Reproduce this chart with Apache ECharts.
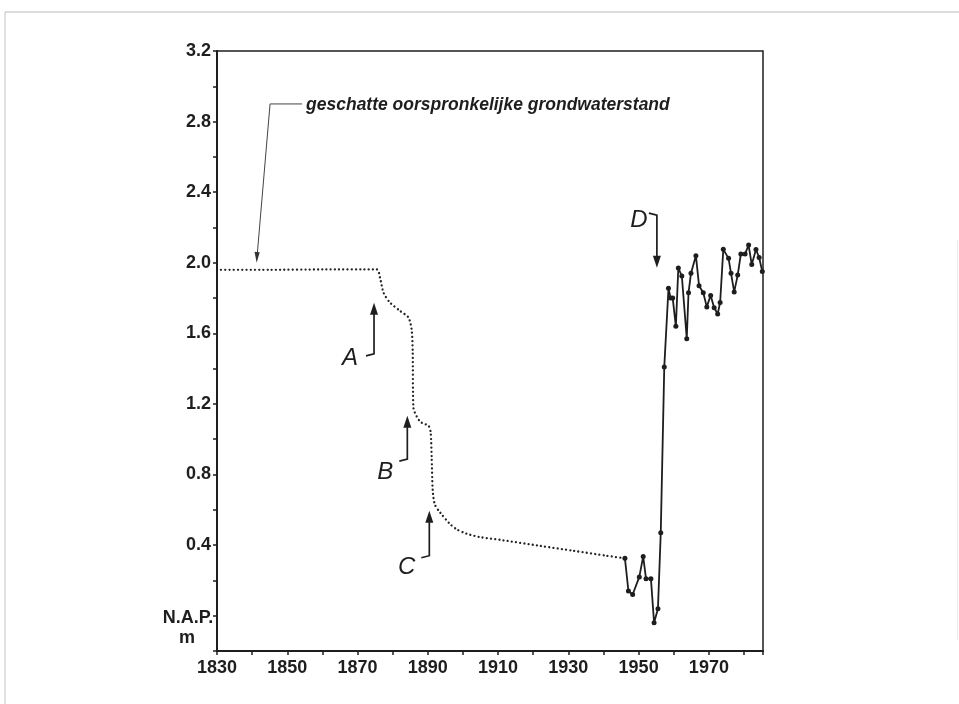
<!DOCTYPE html>
<html><head><meta charset="utf-8">
<script src="https://cdn.jsdelivr.net/npm/echarts@6/dist/echarts.min.js"></script>
<style>html,body{margin:0;padding:0;background:#fff}#c{width:959px;height:704px}</style>
</head><body><div id="c"></div>
<script>
// ---- data ----
const estimatedYears  = [1830, 1845, 1860, 1875.5, 1876.4, 1877.4, 1879.2, 1882.1, 1884.5, 1885.4, 1885.7, 1885.9, 1887.8, 1890.2, 1890.8, 1891.1, 1891.4, 1892.0, 1893.5, 1896.3, 1898.2, 1901.0, 1905.0, 1910.6, 1921.9, 1931.4, 1940.9, 1946.1];
const estimatedLevels = [1.96, 1.96, 1.962, 1.962, 1.915, 1.83, 1.775, 1.727, 1.69, 1.62, 1.50, 1.18, 1.10, 1.076, 1.04, 0.90, 0.71, 0.63, 0.585, 0.52, 0.49, 0.465, 0.445, 0.43, 0.396, 0.368, 0.34, 0.325];

const measuredYears  = [1946.1, 1947.1, 1948.3, 1950.2, 1951.3, 1952.1, 1953.5, 1954.4, 1955.5, 1956.3, 1957.3, 1958.5, 1959.1, 1959.7, 1960.6, 1961.3, 1962.3, 1963.7, 1964.2, 1964.9, 1966.3, 1967.2, 1968.4, 1969.4, 1970.5, 1971.5, 1972.5, 1973.2, 1974.1, 1975.6, 1976.3, 1977.2, 1978.2, 1979.1, 1980.3, 1981.3, 1982.2, 1983.4, 1984.3, 1985.2];
const measuredLevels = [0.325, 0.14, 0.12, 0.22, 0.336, 0.21, 0.21, -0.04, 0.04, 0.47, 1.41, 1.855, 1.80, 1.80, 1.64, 1.97, 1.925, 1.57, 1.83, 1.94, 2.04, 1.87, 1.83, 1.75, 1.815, 1.745, 1.71, 1.775, 2.076, 2.025, 1.94, 1.835, 1.93, 2.05, 2.05, 2.10, 1.99, 2.075, 2.03, 1.95];

const xLabelYears = [1830, 1850, 1870, 1890, 1910, 1930, 1950, 1970];
const yLabelValues = [0.4, 0.8, 1.2, 1.6, 2.0, 2.4, 2.8, 3.2];
const zeroLabel = ['N.A.P.', 'm'];

const noteText = 'geschatte oorspronkelijke grondwaterstand';
const noteTipYear = 1841.3, noteTipLevel = 2.0;
const noteCornerYear = 1845.1, noteCornerLevel = 2.90;

const markerNames      = ['A', 'B', 'C', 'D'];
const markerYears      = [1874.69, 1884.17, 1890.43, 1955.2];
const markerTipLevels  = [1.774, 1.1325, 0.5946, 1.972];
const markerTailLevels = [1.4836, 0.887, 0.340, 2.27];

// ---- chart ----
const INK = '#1e1e1e';
const FONT = '"Liberation Sans", Arial, sans-serif';
const chart = echarts.init(document.getElementById('c'), null, {renderer: 'canvas'});

const option = {
  animation: false,
  backgroundColor: '#fff',
  grid: {left: 217, right: 196, top: 51, bottom: 53, show: true, borderColor: INK, borderWidth: 1.5, backgroundColor: 'transparent'},
  xAxis: {
    type: 'value', min: 1830, max: 1985.4, interval: 10,
    axisLine: {show: true, onZero: false, lineStyle: {color: INK, width: 2}},
    axisTick: {show: true, inside: false, length: 4, lineStyle: {color: INK, width: 1.5}},
    splitLine: {show: false},
    axisLabel: {
      margin: 8, color: INK, fontSize: 18, fontWeight: 'bold', fontFamily: FONT,
      formatter: v => xLabelYears.indexOf(Math.round(v)) >= 0 && Math.abs(v - Math.round(v)) < 1e-6 ? String(Math.round(v)) : ''
    }
  },
  yAxis: {
    type: 'value', min: -0.2, max: 3.2, interval: 0.2,
    axisLine: {show: true, onZero: false, lineStyle: {color: INK, width: 2}},
    axisTick: {show: true, inside: false, length: 4, lineStyle: {color: INK, width: 1.5}},
    splitLine: {show: false},
    axisLabel: {
      margin: 6, color: INK, fontSize: 18, fontWeight: 'bold', fontFamily: FONT,
      formatter: v => {
        const hit = yLabelValues.find(t => Math.abs(t - v) < 1e-6);
        return hit !== undefined ? hit.toFixed(1) : '';
      }
    }
  },
  series: [
    {
      type: 'line', name: 'geschat',
      data: estimatedYears.map((y, i) => [y, estimatedLevels[i]]),
      symbol: 'none', smooth: 0.25,
      lineStyle: {type: [0.01, 4.2], width: 2.3, color: '#222', cap: 'round'},
      z: 2
    },
    {
      type: 'line', name: 'gemeten',
      data: measuredYears.map((y, i) => [y, measuredLevels[i]]),
      symbol: 'circle', symbolSize: 5, showAllSymbol: true, clip: false,
      lineStyle: {width: 1.8, color: INK},
      itemStyle: {color: INK},
      z: 3
    }
  ]
};
chart.setOption(option);

// ---- annotations placed through the chart's own scales ----
const px = (x, y) => chart.convertToPixel({gridIndex: 0}, [x, y]);
const g = [];

// leader + note text
const tip = px(noteTipYear, noteTipLevel);
const corner = px(noteCornerYear, noteCornerLevel);
g.push({type: 'polyline', silent: true, shape: {points: [[corner[0] + 32, corner[1]], corner, [tip[0] + 0.6, tip[1] - 9]]},
        style: {stroke: '#444', lineWidth: 1, fill: null}});
g.push({type: 'polygon', silent: true, shape: {points: [[tip[0], tip[1]], [tip[0] - 2.2, tip[1] - 11], [tip[0] + 3, tip[1] - 10.6]]},
        style: {fill: '#333'}});
g.push({type: 'text', silent: true, x: corner[0] + 36, y: corner[1] + 1,
        style: {text: noteText, font: 'italic bold 17.5px ' + FONT, fill: INK, align: 'left', verticalAlign: 'middle'}});

// zero label "N.A.P. / m"
const z0 = px(1830, 0);
g.push({type: 'text', silent: true, x: z0[0] - 29, y: z0[1] + 2.5,
        style: {text: zeroLabel[0], font: 'bold 18px ' + FONT, fill: INK, align: 'center', verticalAlign: 'middle'}});
g.push({type: 'text', silent: true, x: z0[0] - 30, y: z0[1] + 22,
        style: {text: zeroLabel[1], font: 'bold 18px ' + FONT, fill: INK, align: 'center', verticalAlign: 'middle'}});

// letter arrows
const letterOffset = [[-24, 4], [-22, 13], [-22.6, 11.7], [-18, 5]];
markerNames.forEach((name, i) => {
  const t = px(markerYears[i], markerTipLevels[i]);
  const b = px(markerYears[i], markerTailLevels[i]);
  const dir = b[1] > t[1] ? 1 : -1;
  const hl = 12, hw = 4;
  g.push({type: 'polyline', silent: true,
          shape: {points: [[t[0], t[1] + dir * hl * 0.7], [b[0], b[1]], [b[0] - 8, b[1] + dir * 2]]},
          style: {stroke: INK, lineWidth: 1.7, fill: null}});
  g.push({type: 'polygon', silent: true,
          shape: {points: [[t[0], t[1]], [t[0] - hw, t[1] + dir * hl], [t[0] + hw, t[1] + dir * hl]]},
          style: {fill: INK}});
  g.push({type: 'text', silent: true, x: b[0] + letterOffset[i][0], y: b[1] + letterOffset[i][1],
          style: {text: name, font: 'italic 24px ' + FONT, fill: INK, align: 'center', verticalAlign: 'middle'}});
});

// page frame of the scanned sheet
g.push({type: 'line', silent: true, shape: {x1: 5, y1: 12, x2: 959, y2: 12}, style: {stroke: '#b8b8b8', lineWidth: 1}});
g.push({type: 'line', silent: true, shape: {x1: 5, y1: 12, x2: 5, y2: 704}, style: {stroke: '#c4c4c4', lineWidth: 1}});
g.push({type: 'line', silent: true, shape: {x1: 957.5, y1: 240, x2: 957.5, y2: 640}, style: {stroke: '#ececec', lineWidth: 1}});

chart.setOption({graphic: {elements: g}});
</script>
</body></html>
